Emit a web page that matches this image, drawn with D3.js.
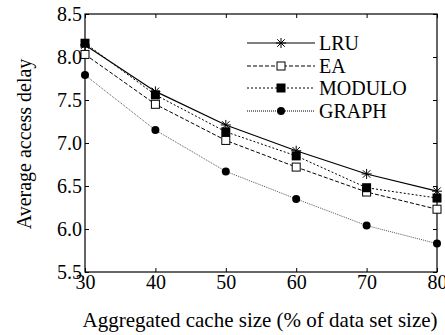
<!DOCTYPE html>
<html>
<head>
<meta charset="utf-8">
<style>
  body { margin: 0; background: #fff; }
  text { font-family: "Liberation Serif", "Times New Roman", serif; fill: #000; }
</style>
</head>
<body>
<div id="chart"></div>
<script src="https://cdn.jsdelivr.net/npm/d3@7"></script>
<script>
// data
var cacheSizes = [30, 40, 50, 60, 70, 80];
var lru    = [8.14, 7.60, 7.21, 6.91, 6.64, 6.44];
var ea     = [8.03, 7.45, 7.03, 6.72, 6.43, 6.23];
var modulo = [8.16, 7.56, 7.13, 6.85, 6.48, 6.36];
var graph  = [7.79, 7.15, 6.67, 6.35, 6.04, 5.83];
var yTicks = [5.5, 6.0, 6.5, 7.0, 7.5, 8.0, 8.5];

var series = [
  { name: "LRU",    values: lru,    dash: null,  color: "#000", width: 1.2, marker: "star" },
  { name: "EA",     values: ea,     dash: "4,2", color: "#000", width: 1,   marker: "square" },
  { name: "MODULO", values: modulo, dash: "2,2", color: "#000", width: 1,   marker: "filledSquare" },
  { name: "GRAPH",  values: graph,  dash: "1,1", color: "#555", width: 1,   marker: "circle" }
];

var W = 445, H = 335;
var margin = { left: 85, right: 8, top: 14, bottom: 63 };

var svg = d3.select("#chart").append("svg")
    .attr("width", W)
    .attr("height", H);

var x = d3.scaleLinear().domain([30, 80]).range([margin.left, W - margin.right]);
var y = d3.scaleLinear().domain([5.5, 8.5]).range([H - margin.bottom, margin.top]);

// frame
svg.append("rect")
    .attr("x", x(30)).attr("y", y(8.5))
    .attr("width", x(80) - x(30)).attr("height", y(5.5) - y(8.5))
    .attr("fill", "none").attr("stroke", "#000").attr("stroke-width", 1.2);

// axes with inward ticks
var fmt = d3.format(".1f");
svg.append("g")
    .attr("transform", "translate(0," + y(5.5) + ")")
    .call(d3.axisBottom(x).tickValues(cacheSizes).tickSize(-4).tickPadding(3))
    .call(function (g) {
        g.select(".domain").remove();
        g.selectAll("text").style("font-size", "20px").attr("font-family", null);
    });
svg.append("g")
    .attr("transform", "translate(0," + y(8.5) + ")")
    .call(d3.axisTop(x).tickValues(cacheSizes).tickSize(-4).tickFormat(""))
    .call(function (g) { g.select(".domain").remove(); });
svg.append("g")
    .attr("transform", "translate(" + x(30) + ",0)")
    .call(d3.axisLeft(y).tickValues(yTicks).tickSize(-4).tickPadding(3).tickFormat(fmt))
    .call(function (g) {
        g.select(".domain").remove();
        g.selectAll("text").style("font-size", "20px").attr("font-family", null);
    });
svg.append("g")
    .attr("transform", "translate(" + x(80) + ",0)")
    .call(d3.axisRight(y).tickValues(yTicks).tickSize(-4).tickFormat(""))
    .call(function (g) { g.select(".domain").remove(); });

// axis titles
svg.append("text")
    .attr("x", 260).attr("y", 327)
    .attr("text-anchor", "middle")
    .style("font-size", "21px")
    .text("Aggregated cache size (% of data set size)");
svg.append("text")
    .attr("transform", "translate(31," + 144 + ") rotate(-90)")
    .attr("text-anchor", "middle")
    .style("font-size", "20px")
    .text("Average access delay");

function drawMarker(g, type, cx, cy) {
    if (type === "star") {
        var s = 5;
        var p = "M" + (cx - s) + "," + cy + "H" + (cx + s) +
                "M" + cx + "," + (cy - s) + "V" + (cy + s) +
                "M" + (cx - s * 0.75) + "," + (cy - s * 0.75) + "L" + (cx + s * 0.75) + "," + (cy + s * 0.75) +
                "M" + (cx - s * 0.75) + "," + (cy + s * 0.75) + "L" + (cx + s * 0.75) + "," + (cy - s * 0.75);
        g.append("path").attr("d", p).attr("stroke", "#000").attr("stroke-width", 1).attr("fill", "none");
    } else if (type === "square") {
        g.append("rect").attr("x", cx - 4).attr("y", cy - 4).attr("width", 8).attr("height", 8)
            .attr("fill", "#fff").attr("stroke", "#000").attr("stroke-width", 1);
    } else if (type === "filledSquare") {
        g.append("rect").attr("x", cx - 4.5).attr("y", cy - 4.5).attr("width", 9).attr("height", 9)
            .attr("fill", "#000");
    } else {
        g.append("circle").attr("cx", cx).attr("cy", cy).attr("r", 4).attr("fill", "#000");
    }
}

var line = d3.line()
    .x(function (d, i) { return x(cacheSizes[i]); })
    .y(function (d) { return y(d); });

series.forEach(function (s) {
    var g = svg.append("g");
    g.append("path")
        .attr("d", line(s.values))
        .attr("fill", "none")
        .attr("stroke", s.color)
        .attr("stroke-width", s.width)
        .attr("stroke-dasharray", s.dash);
    s.values.forEach(function (v, i) {
        drawMarker(g, s.marker, x(cacheSizes[i]), y(v));
    });
});

// legend
var legendRows = [43, 66, 88, 111];
series.forEach(function (s, i) {
    var g = svg.append("g");
    var ly = legendRows[i];
    g.append("line")
        .attr("x1", 247).attr("x2", 315).attr("y1", ly).attr("y2", ly)
        .attr("stroke", s.color === "#555" ? "#000" : s.color)
        .attr("stroke-width", s.width)
        .attr("stroke-dasharray", s.dash);
    drawMarker(g, s.marker, 281, ly);
    g.append("text")
        .attr("x", 319).attr("y", ly + 7)
        .style("font-size", "20px")
        .text(s.name);
});
</script>
</body>
</html>
